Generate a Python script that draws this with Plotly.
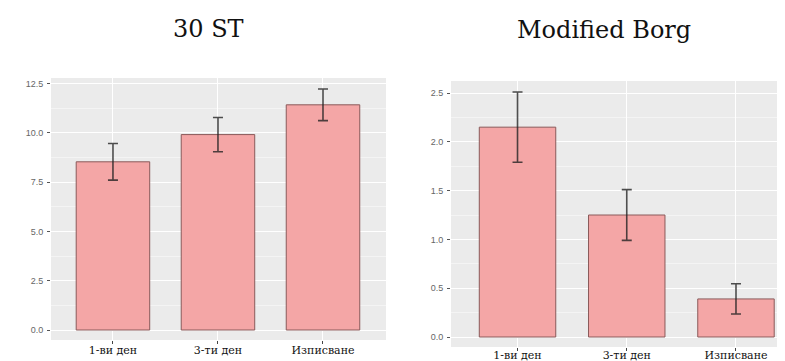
import plotly.graph_objects as go

categories = ["1-ви ден", "3-ти ден", "Изписване"]
st30_values = [8.53, 9.91, 11.42]
st30_errors = [0.93, 0.87, 0.80]
borg_values = [2.15, 1.25, 0.39]
borg_errors = [0.36, 0.26, 0.155]
titles = ["30 ST", "Modified Borg"]
st30_ticks = [0, 2.5, 5, 7.5, 10, 12.5]
st30_ticktext = ["0.0", "2.5", "5.0", "7.5", "10.0", "12.5"]
borg_ticks = [0, 0.5, 1, 1.5, 2, 2.5]
borg_ticktext = ["0.0", "0.5", "1.0", "1.5", "2.0", "2.5"]

W, H = 785, 361
fill = "#F4A6A6"
outline = "#8a5a5a"
errcol = "rgba(35,35,35,0.8)"
SERIF = "DejaVu Serif"

fig = go.Figure()
fig.add_trace(go.Bar(
    x=categories, y=st30_values, width=0.7, xaxis="x", yaxis="y",
    marker=dict(color=fill, line=dict(color=outline, width=1)),
    error_y=dict(type="data", array=st30_errors, color=errcol, thickness=1.6, width=5),
    showlegend=False, hoverinfo="skip"))
fig.add_trace(go.Bar(
    x=categories, y=borg_values, width=0.7, xaxis="x2", yaxis="y2",
    marker=dict(color=fill, line=dict(color=outline, width=1)),
    error_y=dict(type="data", array=borg_errors, color=errcol, thickness=1.6, width=5),
    showlegend=False, hoverinfo="skip"))

def px_x(p):
    return p / W

def px_y(p):
    return (H - p) / H

xcommon = dict(
    type="category", showgrid=True, gridcolor="white", gridwidth=1.2,
    zeroline=False, ticks="outside", ticklen=3, tickcolor="#444", tickwidth=1,
    tickfont=dict(family=SERIF, size=11, color="#111"),
    showline=False, fixedrange=True,
)
ycommon = dict(
    showgrid=True, gridcolor="white", gridwidth=1.2, zeroline=False,
    ticks="outside", ticklen=3, tickcolor="#555", tickwidth=1,
    tickfont=dict(family="Liberation Sans", size=9, color="#666"),
    ticklabelstandoff=2, showline=False, fixedrange=True,
)

fig.update_layout(
    width=W, height=H,
    margin=dict(l=0, r=0, t=0, b=0),
    paper_bgcolor="white",
    plot_bgcolor="#EBEBEB",
    xaxis=dict(domain=[px_x(43), px_x(378)], range=[-0.59, 2.6], anchor="y",
               ticklabelstandoff=-3, **xcommon),
    yaxis=dict(domain=[px_y(332), px_y(70)], range=[-0.507, 12.78], anchor="x",
               tickvals=st30_ticks, ticktext=st30_ticktext,
               minor=dict(dtick=1.25, tick0=0, showgrid=True, gridcolor="#F4F4F4", gridwidth=0.6, ticks=""),
               **ycommon),
    xaxis2=dict(domain=[px_x(443), 1.0], range=[-0.609, 2.522], anchor="y2",
                ticklabelstandoff=-5, **xcommon),
    yaxis2=dict(domain=[px_y(339), px_y(73)], range=[-0.1025, 2.623], anchor="x2",
                tickvals=borg_ticks, ticktext=borg_ticktext,
                minor=dict(dtick=0.25, tick0=0, showgrid=True, gridcolor="#F4F4F4", gridwidth=0.6, ticks=""),
                **ycommon),
    annotations=[
        dict(text=titles[0], x=px_x(200), y=px_y(21), xref="paper", yref="paper",
             xanchor="center", yanchor="middle", showarrow=False,
             font=dict(family=SERIF, size=24, color="#111")),
        dict(text=titles[1], x=px_x(595.5), y=px_y(22), xref="paper", yref="paper",
             xanchor="center", yanchor="middle", showarrow=False,
             font=dict(family=SERIF, size=24, color="#111")),
    ],
)

fig.write_html("out.html")
